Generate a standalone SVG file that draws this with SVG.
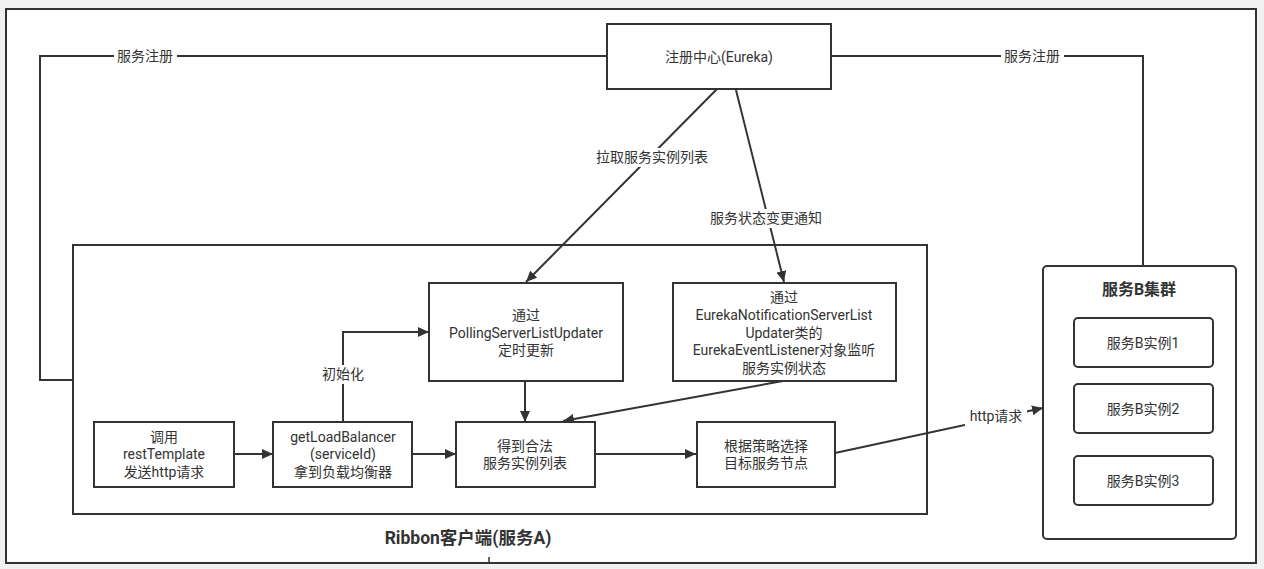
<svg xmlns="http://www.w3.org/2000/svg" width="1264" height="569" viewBox="0 0 1264 569">
<style>
.box{fill:#fff;stroke:#333;stroke-width:2}
.edge{fill:none;stroke:#333;stroke-width:2}
text{font-family:Roboto,"Noto Sans CJK SC",sans-serif;font-size:14px;fill:#333;text-anchor:middle;dominant-baseline:central}
.b{font-weight:bold;font-size:16px}
.r{font-weight:bold;font-size:17.5px}
.lbl{fill:#fff;stroke:none}
</style>
<defs>
<marker id="ah" markerUnits="userSpaceOnUse" markerWidth="12" markerHeight="10" refX="11" refY="5" orient="auto">
<path d="M0,0 L11,5 L0,10 Z" fill="#333"/>
</marker>
</defs>
<rect x="0" y="0" width="1264" height="569" fill="#f1f1f1"/>
<rect x="6" y="9" width="1250" height="554" fill="#fff" stroke="#333" stroke-width="2"/>

<g id="ribbon-client">
<rect class="box" x="73" y="245" width="854" height="269"/>
<text class="r" x="468" y="538">Ribbon客户端(服务A)</text>
</g>
<line x1="489" y1="557" x2="489" y2="563" stroke="#333" stroke-width="1.5"/>

<g id="connectors">
<path class="edge" d="M607,56 H40 V380 H73"/>
<path class="edge" d="M831,56 H1143 V266"/>
<path class="edge" d="M717,89 L526,282" marker-end="url(#ah)"/>
<path class="edge" d="M736,90 L784,282" marker-end="url(#ah)"/>
<path class="edge" d="M234,454 H273" marker-end="url(#ah)"/>
<path class="edge" d="M412,454 H456" marker-end="url(#ah)"/>
<path class="edge" d="M595,454 H696" marker-end="url(#ah)"/>
<path class="edge" d="M343,422 V332 H429" marker-end="url(#ah)"/>
<path class="edge" d="M525,381 V422" marker-end="url(#ah)"/>
<path class="edge" d="M783,381 L563,421" marker-end="url(#ah)"/>
<path class="edge" d="M835,453 L1043,408" marker-end="url(#ah)"/>
<rect class="lbl" x="114" y="47" width="63" height="19"/>
<text x="145" y="56">服务注册</text>
<rect class="lbl" x="1001" y="47" width="63" height="19"/>
<text x="1032" y="56">服务注册</text>
<rect class="lbl" x="593" y="148" width="118" height="19"/>
<text x="652" y="157">拉取服务实例列表</text>
<rect class="lbl" x="707" y="209" width="119" height="19"/>
<text x="766" y="218">服务状态变更通知</text>
<rect class="lbl" x="318" y="365" width="50" height="19"/>
<text x="343" y="374">初始化</text>
<rect class="lbl" x="965" y="407" width="62" height="19"/>
<text x="996" y="416">http请求</text>
</g>

<g id="eureka">
<rect class="box" x="607" y="24" width="224" height="65"/>
<text x="719" y="57">注册中心(Eureka)</text>
</g>

<g id="polling">
<rect class="box" x="429" y="283" width="194" height="98"/>
<text x="526" y="315">通过</text>
<text x="526" y="333">PollingServerListUpdater</text>
<text x="526" y="350">定时更新</text>
</g>

<g id="notification">
<rect class="box" x="673" y="283" width="223" height="98"/>
<text x="784" y="297">通过</text>
<text x="784" y="315">EurekaNotificationServerList</text>
<text x="784" y="333">Updater类的</text>
<text x="784" y="350">EurekaEventListener对象监听</text>
<text x="784" y="368">服务实例状态</text>
</g>

<g id="call">
<rect class="box" x="94" y="422" width="140" height="65"/>
<text x="164" y="437">调用</text>
<text x="164" y="454">restTemplate</text>
<text x="164" y="472">发送http请求</text>
</g>

<g id="getlb">
<rect class="box" x="273" y="422" width="139" height="65"/>
<text x="343" y="437">getLoadBalancer</text>
<text x="343" y="454">(serviceId)</text>
<text x="343" y="472">拿到负载均衡器</text>
</g>

<g id="list">
<rect class="box" x="456" y="422" width="139" height="65"/>
<text x="525" y="446">得到合法</text>
<text x="525" y="463">服务实例列表</text>
</g>

<g id="strategy">
<rect class="box" x="697" y="422" width="138" height="65"/>
<text x="766" y="446">根据策略选择</text>
<text x="766" y="463">目标服务节点</text>
</g>

<g id="cluster">
<rect class="box" x="1043" y="266" width="193" height="273" rx="4"/>
<text class="b" x="1139" y="289">服务B集群</text>
</g>
<g id="inst1">
<rect class="box" x="1074" y="318" width="139" height="49" rx="4"/>
<text x="1143" y="343">服务B实例1</text>
</g>
<g id="inst2">
<rect class="box" x="1074" y="384" width="139" height="49" rx="4"/>
<text x="1143" y="409">服务B实例2</text>
</g>
<g id="inst3">
<rect class="box" x="1074" y="456" width="139" height="49" rx="4"/>
<text x="1143" y="481">服务B实例3</text>
</g>
</svg>
